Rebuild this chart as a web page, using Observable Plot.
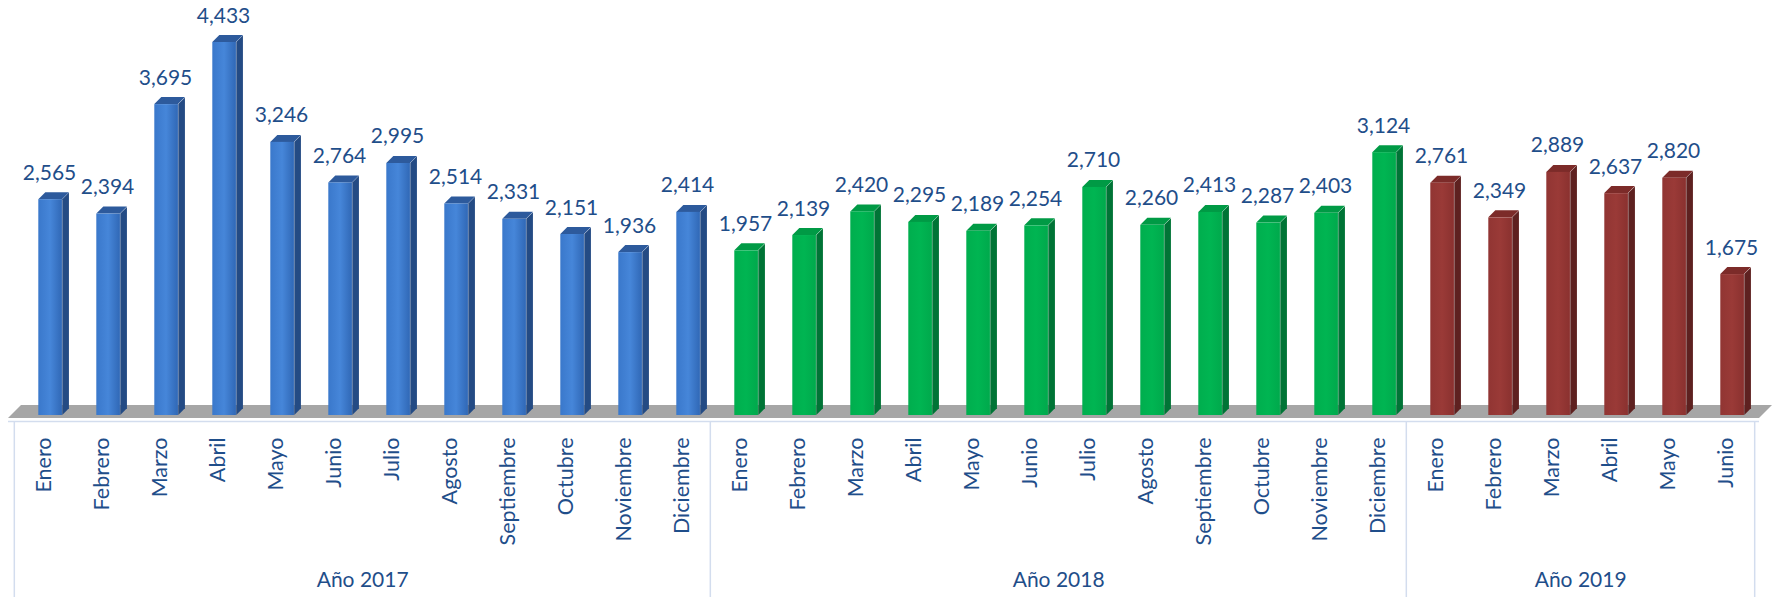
<!DOCTYPE html>
<html><head><meta charset="utf-8">
<script src="https://cdn.jsdelivr.net/npm/d3@7"></script>
<script src="https://cdn.jsdelivr.net/npm/@observablehq/plot@0.6"></script>
<style>
html,body{margin:0;padding:0;background:#fff;}
#chart svg{display:block;}
</style></head><body><div id="chart"></div>
<script>
// ---- data ----
const years = ["Año 2017", "Año 2018", "Año 2019"];
const months2017 = ["Enero","Febrero","Marzo","Abril","Mayo","Junio","Julio","Agosto","Septiembre","Octubre","Noviembre","Diciembre"];
const values2017 = [2565, 2394, 3695, 4433, 3246, 2764, 2995, 2514, 2331, 2151, 1936, 2414];
const months2018 = ["Enero","Febrero","Marzo","Abril","Mayo","Junio","Julio","Agosto","Septiembre","Octubre","Noviembre","Diciembre"];
const values2018 = [1957, 2139, 2420, 2295, 2189, 2254, 2710, 2260, 2413, 2287, 2403, 3124];
const months2019 = ["Enero","Febrero","Marzo","Abril","Mayo","Junio"];
const values2019 = [2761, 2349, 2889, 2637, 2820, 1675];

// ---- styles ----
const TEXT = "#1F4E8A";
const FRONT = ["url(#gBlue)", "url(#gGreen)", "url(#gRed)"];
const SIDE = ["#244B84", "#007436", "#5E2120"];
const TOP = ["#2D5A9C", "#009A45", "#7C2B29"];
const FLOOR = "#A6A6A6";
const LINE = "#D3DDEE";
const W = 1783, H = 597;

const groups = [[months2017, values2017], [months2018, values2018], [months2019, values2019]];
const rows = [];
groups.forEach(([ms, vs], g) => ms.forEach((m, i) => rows.push({id: years[g] + "|" + m, month: m, value: vs[i], g})));
const ids = rows.map(d => d.id);
const bw = (W - 8 - 24) / ids.length;

const yearLabels = [
  {label: years[0], at: years[0] + "|" + months2017[5]},
  {label: years[1], at: years[1] + "|" + months2018[5]},
  {label: years[2], at: years[2] + "|" + months2019[2]}
];
const starts = [months2017, months2018, months2019].map((ms, g) => ({id: years[g] + "|" + ms[0]}));
const ends = [{id: years[2] + "|" + months2019[months2019.length - 1]}];

const defs = () => {
  const d = d3.create("svg:defs");
  const grads = [["gBlue", ["#3A78CB", "#4686D9", "#3068B6"]], ["gGreen", ["#00AE4E", "#00B552", "#00A94C"]], ["gRed", ["#913533", "#9A3A37", "#8A312F"]]];
  for (const [id, cs] of grads) {
    const lg = d.append("linearGradient").attr("id", id).attr("x1", 0).attr("x2", 1).attr("y1", 0).attr("y2", 0);
    cs.forEach((c, i) => lg.append("stop").attr("offset", i / (cs.length - 1)).attr("stop-color", c));
  }
  return d.node();
};

const fmt = d3.format(",");
const plot = Plot.plot({
  width: W, height: H,
  marginLeft: 8, marginRight: 24, marginTop: 0, marginBottom: 179,
  style: {fontFamily: "Lato, sans-serif", background: "white", color: TEXT},
  x: {type: "band", domain: ids, padding: 0, axis: null},
  y: {domain: [0, 4433], range: [415, 42], axis: null},
  color: {type: "identity"},
  marks: [
    defs,
    Plot.frame({fill: FLOOR, stroke: "none", insetTop: 405}),
    Plot.ruleY([0], {dy: 6, stroke: LINE, strokeWidth: 1.5}),
    Plot.ruleX(starts, {x: "id", dx: -bw / 2, stroke: LINE, strokeWidth: 1.5, insetTop: 421, insetBottom: -179}),
    Plot.ruleX(ends, {x: "id", dx: bw / 2, stroke: LINE, strokeWidth: 1.5, insetTop: 421, insetBottom: -179}),
    Plot.barY(rows, {x: "id", y: "value", fill: d => SIDE[d.g], insetLeft: 48.3, insetRight: 3.07}),
    Plot.barY(rows, {x: "id", y1: "value", y2: "value", fill: d => TOP[d.g], insetLeft: 24.3, insetRight: 10.07, insetTop: -7}),
    Plot.barY(rows, {x: "id", y: "value", fill: d => FRONT[d.g], insetLeft: 24.3, insetRight: 10.07}),
    Plot.text(rows, {x: "id", y: "value", text: d => fmt(d.value), lineAnchor: "bottom", dy: -20, dx: 6, fontSize: 21, fill: TEXT}),
    Plot.text(rows, {x: "id", text: "month", rotate: -90, textAnchor: "end", lineAnchor: "middle", frameAnchor: "bottom", dy: 19, dx: 1, fontSize: 21.5, fill: TEXT}),
    Plot.text(yearLabels, {x: "at", text: "label", frameAnchor: "bottom", dy: 162, dx: bw / 2, lineAnchor: "middle", fontSize: 21, fill: TEXT})
  ]
});
document.getElementById("chart").appendChild(plot);

// 3D faces: skew side, top faces and floor
const svg = d3.select(plot);
svg.selectAll("rect").each(function() {
  const f = this.getAttribute("fill");
  const x = +this.getAttribute("x"), y = +this.getAttribute("y"), h = +this.getAttribute("height");
  if (SIDE.includes(f)) {
    this.setAttribute("transform", `translate(${x},0) skewY(-45) translate(${-x},0)`);
  } else if (TOP.includes(f) || f === FLOOR) {
    const b = y + h;
    this.setAttribute("transform", `translate(0,${b}) skewX(-45) translate(0,${-b})`);
  }
});
</script></body></html>
